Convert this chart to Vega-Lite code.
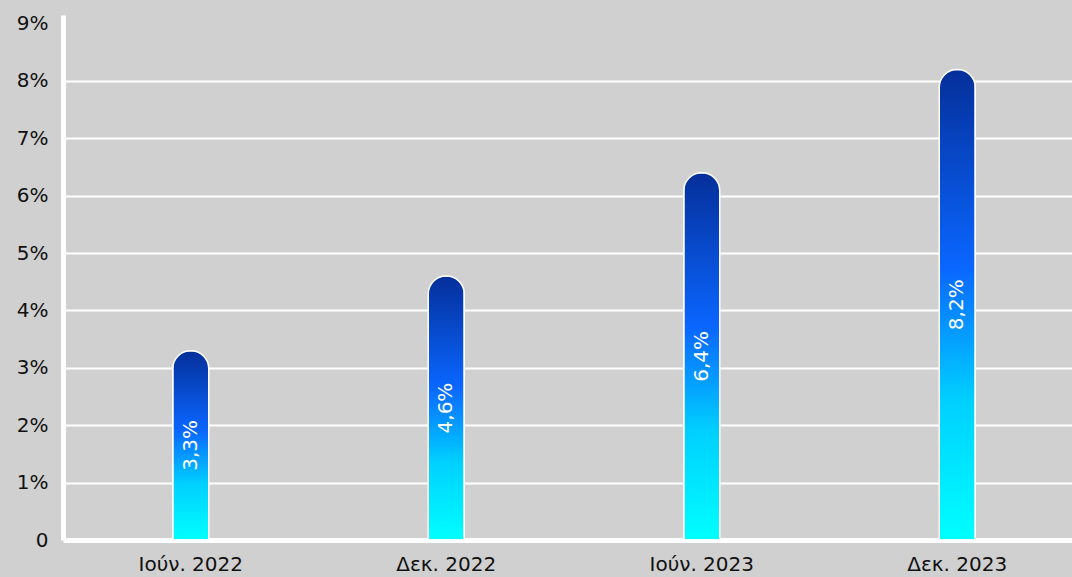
{
  "$schema": "https://vega.github.io/schema/vega-lite/v6.json",
  "autosize": {"type": "none"},
  "padding": {"left": 63, "top": 15, "right": 0, "bottom": 37},
  "width": 1022,
  "height": 525,
  "background": "#d0d0d0",
  "config": {
    "view": {"stroke": null, "fill": "#d0d0d0"},
    "font": "DejaVu Sans"
  },
  "data": {
    "values": [
      {"period": "Ιούν. 2022", "value": 3.3, "label": "3,3%"},
      {"period": "Δεκ. 2022", "value": 4.6, "label": "4,6%"},
      {"period": "Ιούν. 2023", "value": 6.4, "label": "6,4%"},
      {"period": "Δεκ. 2023", "value": 8.2, "label": "8,2%"}
    ]
  },
  "encoding": {
    "x": {
      "field": "period",
      "type": "nominal",
      "sort": null,
      "scale": {"paddingInner": 0, "paddingOuter": 0},
      "axis": {
        "title": null,
        "labelAngle": 0,
        "labelFontSize": 20,
        "labelColor": "#111111",
        "labelPadding": 14,
        "ticks": false,
        "domainColor": "#ffffff",
        "domainWidth": 5,
        "grid": false
      }
    }
  },
  "layer": [
    {
      "mark": {
        "type": "bar",
        "width": 36,
        "cornerRadiusTopLeft": 18,
        "cornerRadiusTopRight": 18,
        "stroke": "#ffffff",
        "strokeWidth": 1.5,
        "fill": {
          "gradient": "linear",
          "x1": 0, "y1": 1, "x2": 0, "y2": 0,
          "stops": [
            {"offset": 0, "color": "#00ffff"},
            {"offset": 0.3, "color": "#00cfff"},
            {"offset": 0.58, "color": "#0a66ff"},
            {"offset": 1, "color": "#052f9a"}
          ]
        }
      },
      "encoding": {
        "y": {
          "field": "value",
          "type": "quantitative",
          "scale": {"domain": [0, 9.15], "nice": false},
          "axis": {
            "title": null,
            "values": [0, 1, 2, 3, 4, 5, 6, 7, 8, 9],
            "labelExpr": "datum.value == 0 ? '0' : datum.value + '%'",
            "labelFontSize": 20,
            "labelColor": "#111111",
            "labelPadding": 15,
            "ticks": false,
            "domainColor": "#ffffff",
            "domainWidth": 5,
            "grid": true,
            "gridColor": {"condition": {"test": "datum.value >= 9 || datum.value == 0", "value": "transparent"}, "value": "#ffffff"},
            "gridWidth": 2,
            "zindex": 0
          }
        }
      }
    },
    {
      "transform": [{"calculate": "datum.value / 2", "as": "mid"}],
      "mark": {
        "type": "text",
        "angle": 270,
        "align": "center",
        "baseline": "middle",
        "color": "#ffffff",
        "fontSize": 20
      },
      "encoding": {
        "y": {"field": "mid", "type": "quantitative", "scale": {"domain": [0, 9.15], "nice": false}},
        "text": {"field": "label"}
      }
    }
  ]
}
